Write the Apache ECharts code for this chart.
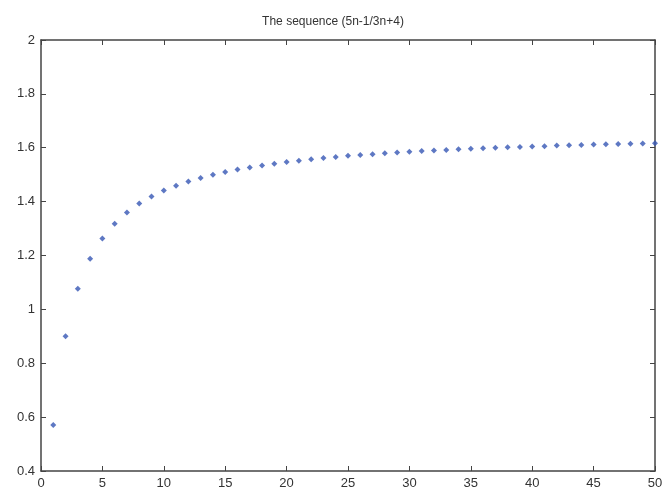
<!DOCTYPE html>
<html><head><meta charset="utf-8">
<script src="https://cdn.jsdelivr.net/npm/echarts@6/dist/echarts.min.js"></script>
<style>html,body{margin:0;padding:0;background:#fff}#c{width:666px;height:493px}</style>
</head><body><div id="c"></div>
<script>
const titleText = 'The sequence (5n-1/3n+4)';
const nValues = [1,2,3,4,5,6,7,8,9,10,11,12,13,14,15,16,17,18,19,20,21,22,23,24,25,26,27,28,29,30,31,32,33,34,35,36,37,38,39,40,41,42,43,44,45,46,47,48,49,50];
const seqValues = [0.571,0.900,1.077,1.188,1.263,1.318,1.360,1.393,1.419,1.441,1.459,1.475,1.488,1.500,1.510,1.519,1.527,1.534,1.541,1.547,1.552,1.557,1.562,1.566,1.570,1.573,1.576,1.580,1.582,1.585,1.588,1.590,1.592,1.594,1.596,1.598,1.600,1.602,1.603,1.605,1.606,1.608,1.609,1.610,1.612,1.613,1.614,1.615,1.616,1.617];
const xTicks = [0,5,10,15,20,25,30,35,40,45,50];
const yTicks = [0.4,0.6,0.8,1,1.2,1.4,1.6,1.8,2];

const font = 'Liberation Sans, Arial, sans-serif';
const lineStyle = {color:'#444', width:1.5};
const chart = echarts.init(document.getElementById('c'), null, {renderer:'canvas'});
const pts = nValues.map((n,i)=>[n, seqValues[i]]);
const xBase = {type:'value', min:xTicks[0], max:xTicks[xTicks.length-1], interval:5,
  axisLine:{show:true, onZero:false, lineStyle}, axisTick:{show:true, inside:true, length:5, lineStyle:{color:'#444',width:1}},
  splitLine:{show:false}};
const yBase = {type:'value', min:yTicks[0], max:yTicks[yTicks.length-1], interval:0.2,
  axisLine:{show:true, onZero:false, lineStyle}, axisTick:{show:true, inside:true, length:5, lineStyle:{color:'#444',width:1}},
  splitLine:{show:false}};
chart.setOption({
  animation:false,
  title:{text:titleText, left:'center', top:11, textStyle:{fontFamily:font, fontSize:12, fontWeight:'normal', color:'#333'}},
  grid:{left:41, right:11, top:40, bottom:22},
  xAxis:[
    Object.assign({}, xBase, {position:'bottom', axisLabel:{show:true, margin:6, color:'#333', fontFamily:font, fontSize:13}}),
    Object.assign({}, xBase, {position:'top', axisLabel:{show:false}})
  ],
  yAxis:[
    Object.assign({}, yBase, {position:'left', axisLabel:{show:true, margin:6, color:'#333', fontFamily:font, fontSize:13,
      formatter:v=>String(Math.round(v*10)/10)}}),
    Object.assign({}, yBase, {position:'right', axisLabel:{show:false}})
  ],
  series:[{type:'scatter', xAxisIndex:0, yAxisIndex:0, data:pts, symbol:'diamond', symbolSize:6,
    itemStyle:{color:'#3656b4'}}]
});
</script></body></html>
